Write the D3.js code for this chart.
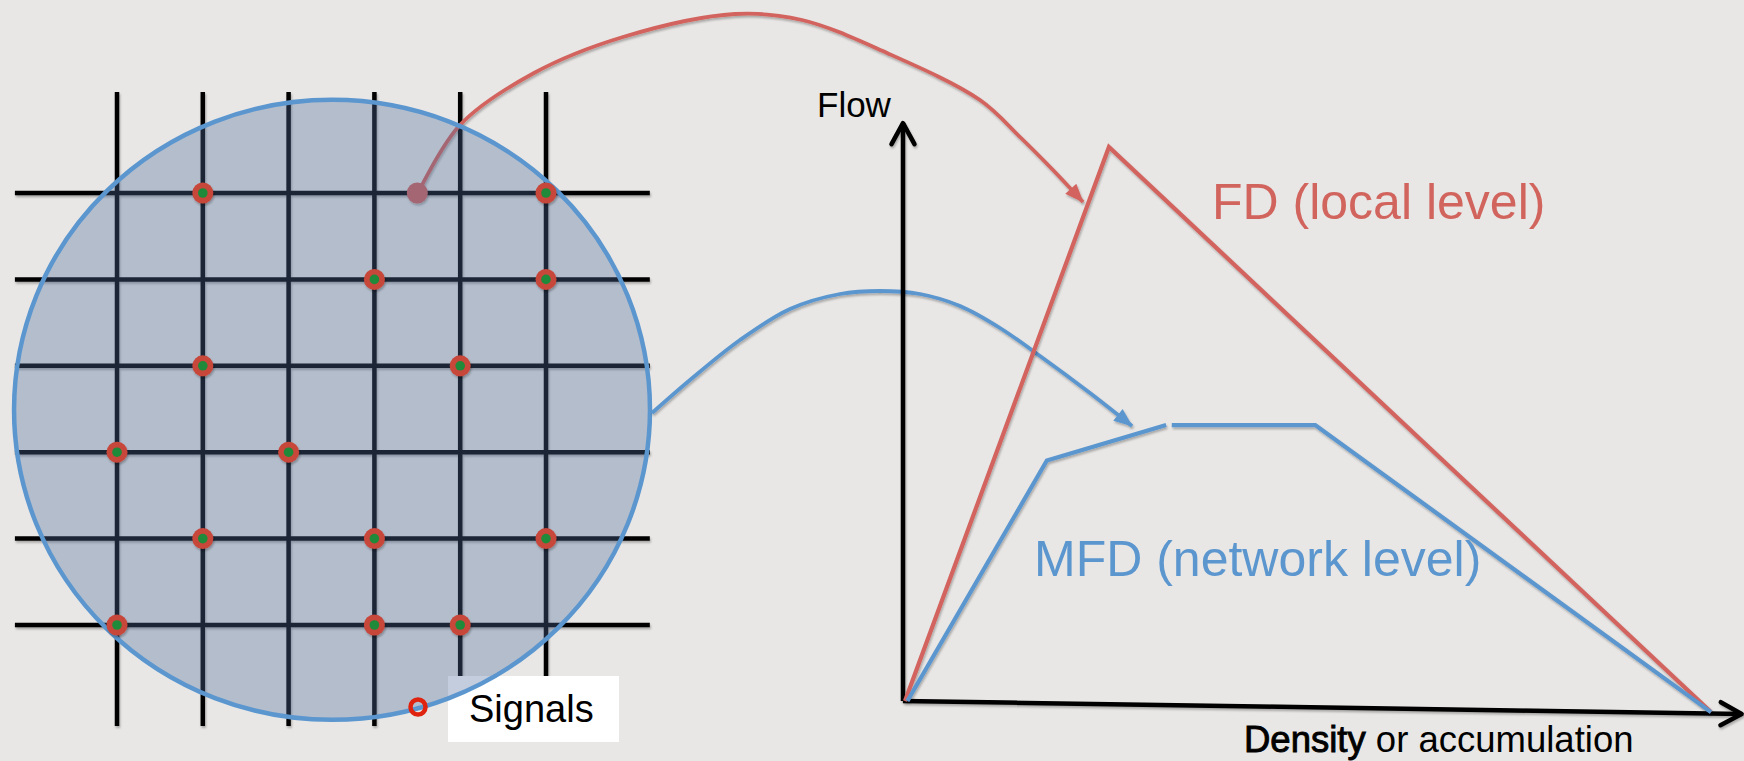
<!DOCTYPE html>
<html>
<head>
<meta charset="utf-8">
<script src="https://cdn.jsdelivr.net/npm/d3@7"></script>
<style>
  body { margin: 0; background: #e8e7e5; }
  svg { display: block; font-family: "Liberation Sans", Arial, Helvetica, sans-serif; }
</style>
</head>
<body>
<svg id="chart"></svg>
<script>
// ---- left: street grid (column / row indices) ----
const gridCols = [0, 1, 2, 3, 4, 5];
const gridRows = [0, 1, 2, 3, 4, 5];
// signalised intersections as [col, row]
const signals = [[1,0],[5,0],[3,1],[5,1],[1,2],[4,2],[0,3],[2,3],[1,4],[3,4],[5,4],[0,5],[3,5],[4,5]];
const sourcePoint = [3.5, 0];
const legendLabel = "Signals";

// ---- right: flow / density diagram (density k, flow q) ----
const fdPoints = [{k: 0, q: 0}, {k: 25.3, q: 100}, {k: 100, q: -2}];
const mfdRising = [{k: 0.3, q: 0}, {k: 17.6, q: 43.4}, {k: 32.4, q: 49.8}];
const mfdPlateau = [{k: 33.1, q: 49.8}, {k: 50.9, q: 49.8}, {k: 100, q: -2}];
const yAxisPts = [{k: -0.25, q: 0}, {k: -0.25, q: 104.3}];
const xAxisPts = [{k: -0.25, q: 0}, {k: 103.8, q: -2.35}];
const labels = {flow: "Flow", fd: "FD (local level)", mfd: "MFD (network level)",
                densityBold: "Density", densityRest: " or accumulation"};

// ---- connector arrows (page coordinates) ----
const redLink = [[418,193],[460,125],[534,73],[623,37],[735,14],[802,20],[887,53],[980,100],[1020,137],[1053,170],[1083,202]];
const blueLink = [[652,413],[690,380],[740,340],[790,309],[840,294],[880,291],[920,294],[960,306],[1000,328],[1040,356],[1090,393],[1132,426]];

const W = 1744, H = 761;
const RED = "#d2645e", BLUE = "#5b96cf";

const svg = d3.select("#chart").attr("width", W).attr("height", H);
const defs = svg.append("defs");

defs.append("filter").attr("id", "sh")
  .attr("x", "-20%").attr("y", "-20%").attr("width", "140%").attr("height", "140%")
  .append("feDropShadow")
  .attr("dx", 1).attr("dy", 2).attr("stdDeviation", 1.3)
  .attr("flood-color", "#000").attr("flood-opacity", 0.28);

function headMarker(id, color) {
  defs.append("marker").attr("id", id)
    .attr("markerUnits", "userSpaceOnUse")
    .attr("viewBox", "-20 -10 22 20")
    .attr("markerWidth", 22).attr("markerHeight", 20)
    .attr("refX", 0).attr("refY", 0)
    .attr("orient", "auto")
    .append("path").attr("d", "M-18,-7.5 L1,0 L-18,7.5 Z").attr("fill", color);
}
headMarker("headRed", RED);
headMarker("headBlue", BLUE);

defs.append("marker").attr("id", "chev")
  .attr("markerUnits", "userSpaceOnUse")
  .attr("viewBox", "-28 -16 32 32")
  .attr("markerWidth", 32).attr("markerHeight", 32)
  .attr("refX", 0).attr("refY", 0)
  .attr("orient", "auto")
  .append("path").attr("d", "M-21,-11.5 L0,0 L-21,11.5")
  .attr("fill", "none").attr("stroke", "#000").attr("stroke-width", 4.5)
  .attr("stroke-linecap", "round").attr("stroke-linejoin", "round");

svg.append("rect").attr("width", W).attr("height", H).attr("fill", "#e8e7e5");

// scales
const col = d3.scaleLinear().domain([0, 5]).range([117, 546]);
const row = d3.scaleLinear().domain([0, 5]).range([193, 625]);
const density = d3.scaleLinear().domain([0, 100]).range([905, 1711]);
const flow = d3.scaleLinear().domain([0, 100]).range([701, 147]);

// grid lines
const grid = svg.append("g").attr("filter", "url(#sh)")
  .attr("stroke", "#000").attr("stroke-width", 4.5);
grid.selectAll("line.v").data(gridCols).join("line").attr("class", "v")
  .attr("x1", d => col(d)).attr("x2", d => col(d))
  .attr("y1", row(-1.17)).attr("y2", row(6.17));
grid.selectAll("line.h").data(gridRows).join("line").attr("class", "h")
  .attr("y1", d => row(d)).attr("y2", d => row(d))
  .attr("x1", col(-1.19)).attr("x2", col(6.21));

// legend box: above the grid lines, below the area overlay
svg.append("rect")
  .attr("x", 448).attr("y", 676).attr("width", 171).attr("height", 66)
  .attr("fill", "#ffffff");

// red connector (starts inside the area, so it is tinted by the overlay)
const link = d3.line().curve(d3.curveCatmullRom.alpha(0.5));
svg.append("path").attr("d", link(redLink))
  .attr("fill", "none").attr("stroke", RED).attr("stroke-width", 3.8)
  .attr("marker-end", "url(#headRed)").attr("filter", "url(#sh)");
svg.append("circle")
  .attr("cx", col(sourcePoint[0])).attr("cy", row(sourcePoint[1])).attr("r", 10.5)
  .attr("fill", RED).attr("filter", "url(#sh)");

// network area
svg.append("ellipse")
  .attr("cx", col(2.506)).attr("cy", row(2.51))
  .attr("rx", col(3.706) - col(0)).attr("ry", row(3.588) - row(0))
  .attr("fill", "rgba(79,109,156,0.34)")
  .attr("stroke", BLUE).attr("stroke-width", 4.5);

// signals
const sig = svg.append("g").selectAll("g").data(signals).join("g")
  .attr("transform", d => `translate(${col(d[0])},${row(d[1])})`);
sig.append("circle").attr("r", 10.5).attr("fill", "#c8463a").attr("filter", "url(#sh)");
sig.append("circle").attr("r", 4.8).attr("fill", "#1e8a3a");

// legend marker + text
svg.append("circle").attr("cx", 418).attr("cy", 707).attr("r", 7.5)
  .attr("fill", "none").attr("stroke", "#e0230f").attr("stroke-width", 4.5);
svg.append("text").attr("x", 469).attr("y", 722)
  .attr("font-size", 38).attr("fill", "#000").text(legendLabel);

// blue connector
svg.append("path").attr("d", link(blueLink))
  .attr("fill", "none").attr("stroke", BLUE).attr("stroke-width", 3.8)
  .attr("marker-end", "url(#headBlue)").attr("filter", "url(#sh)");

// ---- right diagram ----
const kq = d3.line().x(d => density(d.k)).y(d => flow(d.q));
const axes = svg.append("g").attr("filter", "url(#sh)");
axes.append("path").attr("d", kq(yAxisPts)).attr("stroke", "#000").attr("stroke-width", 4.5)
  .attr("fill", "none").attr("marker-end", "url(#chev)");
axes.append("path").attr("d", kq(xAxisPts)).attr("stroke", "#000").attr("stroke-width", 4.5)
  .attr("fill", "none").attr("marker-end", "url(#chev)");

svg.append("path").attr("d", kq(fdPoints))
  .attr("fill", "none").attr("stroke", RED).attr("stroke-width", 4.2)
  .attr("stroke-linejoin", "miter").attr("filter", "url(#sh)");
svg.append("path").attr("d", kq(mfdRising))
  .attr("fill", "none").attr("stroke", BLUE).attr("stroke-width", 4.2).attr("filter", "url(#sh)");
svg.append("path").attr("d", kq(mfdPlateau))
  .attr("fill", "none").attr("stroke", BLUE).attr("stroke-width", 4.2).attr("filter", "url(#sh)");

svg.append("text").attr("x", 817).attr("y", 117).attr("font-size", 35)
  .attr("fill", "#000").text(labels.flow);
svg.append("text").attr("x", 1212).attr("y", 219).attr("font-size", 50)
  .attr("fill", RED).text(labels.fd);
svg.append("text").attr("x", 1034).attr("y", 576).attr("font-size", 50)
  .attr("fill", BLUE).text(labels.mfd);
const dt = svg.append("text").attr("x", 1244).attr("y", 752).attr("font-size", 36.5).attr("fill", "#000");
dt.append("tspan").attr("stroke", "#000").attr("stroke-width", 0.9).text(labels.densityBold);
dt.append("tspan").attr("xml:space", "preserve").text(labels.densityRest);
</script>
</body>
</html>
